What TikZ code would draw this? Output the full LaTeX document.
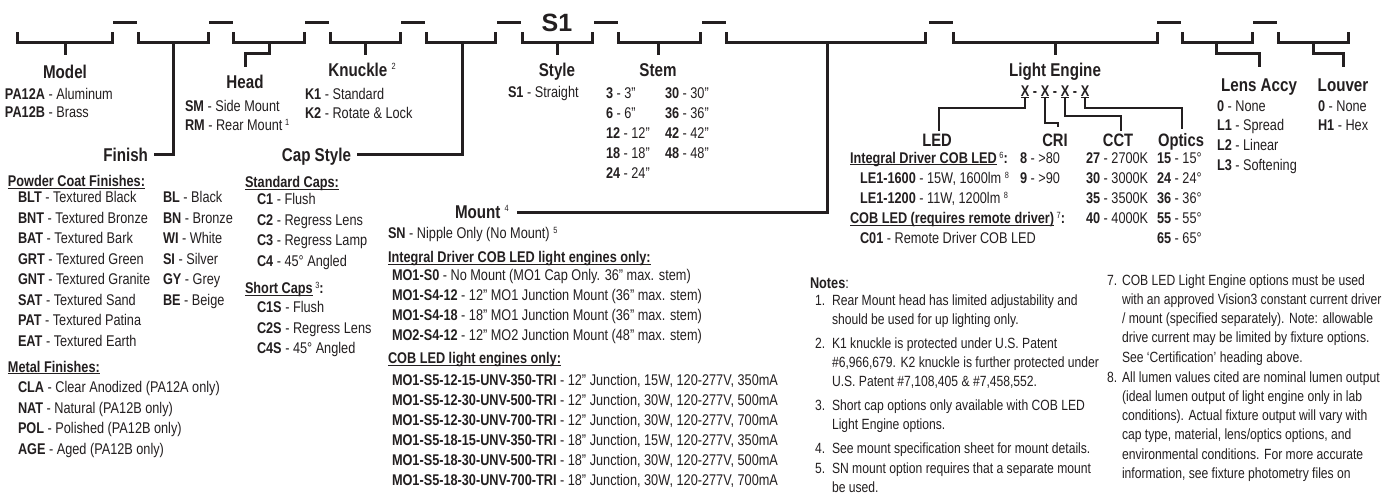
\documentclass[tikz,border=0pt]{standalone}
\usepackage{fontspec}
\setmainfont{Liberation Sans}[FakeStretch=0.82]
\newfontfamily\widefont{Liberation Sans}
\definecolor{ink}{HTML}{231F20}
\newcommand\fnm[2][4.6pt]{\raisebox{#1}{\fontsize{9}{9}\selectfont\mdseries #2}}
\newcommand\ulx[1]{\setbox0\hbox{#1}\rlap{\rule[-1.9pt]{\wd0}{0.9pt}}\box0}
\newcommand\fBody{\fontsize{15.5}{18}\selectfont}
\newcommand\fHdr{\fontsize{18.5}{20}\selectfont\bfseries}
\newcommand\fNote{\fontsize{14.8}{18}\selectfont}
\tikzset{
  txt/.style={anchor=base west, inner sep=0pt, outer sep=0pt, font=\fBody, text=ink},
  note/.style={txt, font=\fNote},
  hdr/.style={anchor=base, inner sep=0pt, outer sep=0pt, font=\fHdr, text=ink},
  subhdr/.style={hdr, font={\fontsize{18}{20}\selectfont\bfseries}},
  xch/.style={anchor=base, inner sep=0pt, outer sep=0pt, text=ink, font=\fBody\bfseries},
  brk/.style={draw=ink, line width=3pt, line join=miter, line cap=butt},
  lnk/.style={draw=ink, line width=1.3pt, line join=miter},
}
\begin{document}
\begin{tikzpicture}[x=1pt,y=-1pt]
\fill[white] (0,0) rectangle (1383,499);
\useasboundingbox (0,0) rectangle (1383,499);

% ---------- top dashes and brackets ----------
\foreach \a [count=\i] in {113,209,305,401,497,594,702,929,1157,1253}
  \draw[brk] (\a,22) coordinate (d\i) -- ++(24,0);
\foreach \l/\r in {17/112,138/208,233/304,330/400,426/495,522/592,618/700,726/925,953/1157,1182/1252,1278/1348}
  \draw[brk] (\l,32) |- (\r,42) -- (\r,32);
\node[anchor=base, inner sep=0pt, text=ink, font={\fontsize{25}{25}\selectfont\widefont\bfseries}] (s1) at (557,31) {S1};

% ---------- bracket connectors ----------
\coordinate (cModel) at (65,55);
\coordinate (cFinish) at (154,154);
\coordinate (cHead) at (245,67);
\coordinate (cKnuckle) at (365,55);
\coordinate (cCap) at (357,154);
\coordinate (cStyle) at (557,55);
\coordinate (cStem) at (658,55);
\coordinate (cMount) at (517,212);
\coordinate (cLE) at (1055,55);
\coordinate (cLens) at (1259,67);
\coordinate (cLouver) at (1343,67);
\draw[brk] (65,42) -- (cModel);
\draw[brk] (173,42) |- (cFinish);
\draw[brk] (269,42) -- (269,53) -| (cHead);
\draw[brk] (365,42) -- (cKnuckle);
\draw[brk] (462,42) |- (cCap);
\draw[brk] (557,42) -- (cStyle);
\draw[brk] (658,42) -- (cStem);
\draw[brk] (827,42) |- (cMount);
\draw[brk] (1055,42) -- (cLE);
\draw[brk] (1216,42) -- (1216,53) -| (cLens);
\draw[brk] (1313,42) -- (1313,53) -| (cLouver);

% ---------- Model ----------
\node[hdr] (hModel) at (65,78.6) {Model};
\node[txt] (pa12a) at (5,99) {\textbf{PA12A} - Aluminum};
\node[txt] (pa12b) at (5,117.5) {\textbf{PA12B} - Brass};

% ---------- Head ----------
\node[hdr] (hHead) at (245,88.6) {Head};
\node[txt] (sm) at (185,111.5) {\textbf{SM} - Side Mount};
\node[txt] (rm) at (185,130.5) {\textbf{RM} - Rear Mount\,\fnm{1}};

% ---------- Knuckle ----------
\node[hdr] (hKnuckle) at (362,76.6) {Knuckle \fnm[7pt]{2}};
\node[txt] (k1) at (305,99) {\textbf{K1} - Standard};
\node[txt] (k2) at (305,118) {\textbf{K2} - Rotate \& Lock};

% ---------- Finish ----------
\node[hdr, anchor=base east] (hFinish) at (148,161) {Finish};
\node[txt, font=\fBody\bfseries] (pcf) at (8,186.5) {\ulx{Powder Coat Finishes:}};
\node[txt] (f1) at (18,202.5) {\textbf{BLT} - Textured Black};
\node[txt] (f2) at (18,223) {\textbf{BNT} - Textured Bronze};
\node[txt] (f3) at (18,243.5) {\textbf{BAT} - Textured Bark};
\node[txt] (f4) at (18,264) {\textbf{GRT} - Textured Green};
\node[txt] (f5) at (18,284.5) {\textbf{GNT} - Textured Granite};
\node[txt] (f6) at (18,305) {\textbf{SAT} - Textured Sand};
\node[txt] (f7) at (18,325.5) {\textbf{PAT} - Textured Patina};
\node[txt] (f8) at (18,346) {\textbf{EAT} - Textured Earth};
\node[txt] (g1) at (163,202.5) {\textbf{BL} - Black};
\node[txt] (g2) at (163,223) {\textbf{BN} - Bronze};
\node[txt] (g3) at (163,243.5) {\textbf{WI} - White};
\node[txt] (g4) at (163,264) {\textbf{SI} - Silver};
\node[txt] (g5) at (163,284.5) {\textbf{GY} - Grey};
\node[txt] (g6) at (163,305) {\textbf{BE} - Beige};
\node[txt, font=\fBody\bfseries] (mf) at (8,372) {\ulx{Metal Finishes:}};
\node[txt] (m1) at (18,392.5) {\textbf{CLA} - Clear Anodized (PA12A only)};
\node[txt] (m2) at (18,413) {\textbf{NAT} - Natural (PA12B only)};
\node[txt] (m3) at (18,433.5) {\textbf{POL} - Polished (PA12B only)};
\node[txt] (m4) at (18,454) {\textbf{AGE} - Aged (PA12B only)};

% ---------- Cap Style ----------
\node[hdr, anchor=base east] (hCap) at (351,161) {Cap Style};
\node[txt, font=\fBody\bfseries] (stc) at (245,187.5) {\ulx{Standard Caps:}};
\node[txt] (c1) at (257,204.5) {\textbf{C1} - Flush};
\node[txt] (c2) at (257,225) {\textbf{C2} - Regress Lens};
\node[txt] (c3) at (257,245.5) {\textbf{C3} - Regress Lamp};
\node[txt] (c4) at (257,266) {\textbf{C4} - 45° Angled};
\node[txt, font=\fBody\bfseries] (shc) at (245,293.5) {\ulx{Short Caps}\,\fnm{3}:};
\node[txt] (c1s) at (257,312.5) {\textbf{C1S} - Flush};
\node[txt] (c2s) at (257,333) {\textbf{C2S} - Regress Lens};
\node[txt] (c4s) at (257,353.5) {\textbf{C4S} - 45° Angled};

% ---------- Style ----------
\node[hdr] (hStyle) at (557,76.6) {Style};
\node[txt] (s1s) at (508,97) {\textbf{S1} - Straight};

% ---------- Stem ----------
\node[hdr] (hStem) at (658,76.6) {Stem};
\node[txt] (st1) at (606,98.5) {\textbf{3} - 3”};
\node[txt] (st2) at (606,118.5) {\textbf{6} - 6”};
\node[txt] (st3) at (606,138.5) {\textbf{12} - 12”};
\node[txt] (st4) at (606,158.5) {\textbf{18} - 18”};
\node[txt] (st5) at (606,178.5) {\textbf{24} - 24”};
\node[txt] (st6) at (665,98.5) {\textbf{30} - 30”};
\node[txt] (st7) at (665,118.5) {\textbf{36} - 36”};
\node[txt] (st8) at (665,138.5) {\textbf{42} - 42”};
\node[txt] (st9) at (665,158.5) {\textbf{48} - 48”};

% ---------- Mount ----------
\node[hdr, anchor=base west] (hMount) at (455,218.6) {Mount \fnm[7pt]{4}};
\node[txt] (sn) at (388,238.5) {\textbf{SN} - Nipple Only (No Mount) \fnm{5}};
\node[txt, font=\fBody\bfseries] (idm) at (388,262.5) {\ulx{Integral Driver COB LED light engines only:}};
\node[txt] (mo1) at (392,280.5) {\textbf{MO1-S0} - No Mount (MO1 Cap Only. 36” max. stem)};
\node[txt] (mo2) at (392,300.5) {\textbf{MO1-S4-12} - 12” MO1 Junction Mount (36” max. stem)};
\node[txt] (mo3) at (392,320.5) {\textbf{MO1-S4-18} - 18” MO1 Junction Mount (36” max. stem)};
\node[txt] (mo4) at (392,340.5) {\textbf{MO2-S4-12} - 12” MO2 Junction Mount (48” max. stem)};
\node[txt, font=\fBody\bfseries] (cobm) at (388,363.5) {\ulx{COB LED light engines only:}};
\node[txt] (mo5) at (392,385.5) {\textbf{MO1-S5-12-15-UNV-350-TRI} - 12” Junction, 15W, 120-277V, 350mA};
\node[txt] (mo6) at (392,405.5) {\textbf{MO1-S5-12-30-UNV-500-TRI} - 12” Junction, 30W, 120-277V, 500mA};
\node[txt] (mo7) at (392,425.5) {\textbf{MO1-S5-12-30-UNV-700-TRI} - 12” Junction, 30W, 120-277V, 700mA};
\node[txt] (mo8) at (392,445.5) {\textbf{MO1-S5-18-15-UNV-350-TRI} - 18” Junction, 15W, 120-277V, 350mA};
\node[txt] (mo9) at (392,465.5) {\textbf{MO1-S5-18-30-UNV-500-TRI} - 18” Junction, 30W, 120-277V, 500mA};
\node[txt] (mo10) at (392,485.5) {\textbf{MO1-S5-18-30-UNV-700-TRI} - 18” Junction, 30W, 120-277V, 700mA};

% ---------- Light Engine ----------
\node[hdr] (hLE) at (1055,76.6) {Light Engine};
\node[xch] (x1) at (1025,96) {\ulx{X}};
\node[xch] (x2) at (1045,96) {\ulx{X}};
\node[xch] (x3) at (1065,96) {\ulx{X}};
\node[xch] (x4) at (1085,96) {\ulx{X}};
\node[xch] (xd1) at (1035,96) {-};
\node[xch] (xd2) at (1055,96) {-};
\node[xch] (xd3) at (1075,96) {-};
\coordinate (cLED) at (939,131);
\coordinate (cCRI) at (1058,127);
\coordinate (cCCT) at (1121,131);
\coordinate (cOpt) at (1182,129);
\draw[lnk] (x1.south) -- (1025,108) -| (cLED);
\draw[lnk] (x2.south) -- (1045,123) -| (cCRI);
\draw[lnk] (x3.south) -- (1065,116) -| (cCCT);
\draw[lnk] (x4.south) -- (1085,108) -| (cOpt);

\node[subhdr] (hLED) at (937,146) {LED};
\node[subhdr] (hCRI) at (1055,146) {CRI};
\node[subhdr] (hCCT) at (1118,146) {CCT};
\node[subhdr] (hOpt) at (1181,146) {Optics};

\node[txt, font=\fBody\bfseries] (idl) at (850,163) {\ulx{Integral Driver COB LED}\,\fnm{6}:};
\node[txt] (le1) at (860,183) {\textbf{LE1-1600} - 15W, 1600lm \fnm{8}};
\node[txt] (le2) at (860,203) {\textbf{LE1-1200} - 11W, 1200lm \fnm{8}};
\node[txt, font=\fBody\bfseries] (cobl) at (850,223.5) {\ulx{COB LED (requires remote driver)}\,\fnm{7}:};
\node[txt] (c01) at (860,243.5) {\textbf{C01} - Remote Driver COB LED};

\node[txt] (cri1) at (1020,163) {\textbf{8} - >80};
\node[txt] (cri2) at (1020,183) {\textbf{9} - >90};
\node[txt] (cct1) at (1086,163) {\textbf{27} - 2700K};
\node[txt] (cct2) at (1086,183) {\textbf{30} - 3000K};
\node[txt] (cct3) at (1086,203) {\textbf{35} - 3500K};
\node[txt] (cct4) at (1086,223.5) {\textbf{40} - 4000K};
\node[txt] (op1) at (1157,163) {\textbf{15} - 15°};
\node[txt] (op2) at (1157,183) {\textbf{24} - 24°};
\node[txt] (op3) at (1157,203) {\textbf{36} - 36°};
\node[txt] (op4) at (1157,223.5) {\textbf{55} - 55°};
\node[txt] (op5) at (1157,243.5) {\textbf{65} - 65°};

% ---------- Lens Accy / Louver ----------
\node[hdr] (hLens) at (1259,91.6) {Lens Accy};
\node[txt] (la0) at (1217,111.5) {\textbf{0} - None};
\node[txt] (la1) at (1217,130.5) {\textbf{L1} - Spread};
\node[txt] (la2) at (1217,150.5) {\textbf{L2} - Linear};
\node[txt] (la3) at (1217,170.5) {\textbf{L3} - Softening};
\node[hdr] (hLouver) at (1343,91.6) {Louver};
\node[txt] (lv0) at (1318,111.5) {\textbf{0} - None};
\node[txt] (lv1) at (1318,130.5) {\textbf{H1} - Hex};

% ---------- Notes ----------
\node[txt] (notes) at (810,288) {\textbf{Notes}:};
\node[note] (n1) at (815,305.3) {1.};
\node[note] (n1a) at (832,305.3) {Rear Mount head has limited adjustability and};
\node[note] (n1b) at (832,324.5) {should be used for up lighting only.};
\node[note] (n2) at (815,348.3) {2.};
\node[note] (n2a) at (832,348.3) {K1 knuckle is protected under U.S. Patent};
\node[note] (n2b) at (832,367.5) {\#6,966,679. K2 knuckle is further protected under};
\node[note] (n2c) at (832,386.7) {U.S. Patent \#7,108,405 \& \#7,458,552.};
\node[note] (n3) at (815,410.3) {3.};
\node[note] (n3a) at (832,410.3) {Short cap options only available with COB LED};
\node[note] (n3b) at (832,429.5) {Light Engine options.};
\node[note] (n4) at (815,453.3) {4.};
\node[note] (n4a) at (832,453.3) {See mount specification sheet for mount details.};
\node[note] (n5) at (815,473.3) {5.};
\node[note] (n5a) at (832,473.3) {SN mount option requires that a separate mount};
\node[note] (n5b) at (832,492.5) {be used.};

\node[note] (n7) at (1107,285.3) {7.};
\node[note] (n7a) at (1122,285.3) {COB LED Light Engine options must be used};
\node[note] (n7b) at (1122,304.5) {with an approved Vision3 constant current driver};
\node[note] (n7c) at (1122,323.7) {/ mount (specified separately). Note: allowable};
\node[note] (n7d) at (1122,342.9) {drive current may be limited by fixture options.};
\node[note] (n7e) at (1122,362.1) {See ‘Certification’ heading above.};
\node[note] (n8) at (1107,382.3) {8.};
\node[note] (n8a) at (1122,382.3) {All lumen values cited are nominal lumen output};
\node[note] (n8b) at (1122,401.5) {(ideal lumen output of light engine only in lab};
\node[note] (n8c) at (1122,420.7) {conditions). Actual fixture output will vary with};
\node[note] (n8d) at (1122,439.9) {cap type, material, lens/optics options, and};
\node[note] (n8e) at (1122,459.1) {environmental conditions. For more accurate};
\node[note] (n8f) at (1122,478.3) {information, see fixture photometry files on};
\end{tikzpicture}
\end{document}
